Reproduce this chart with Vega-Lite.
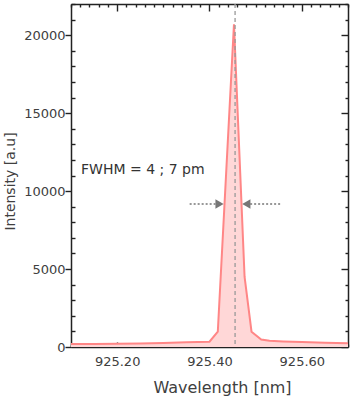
{
  "$schema": "https://vega.github.io/schema/vega-lite/v6.json",
  "width": 277,
  "height": 343,
  "autosize": "none",
  "padding": {"left": 71, "top": 4, "right": 4, "bottom": 55},
  "background": "white",
  "view": {"stroke": null},
  "config": {
    "axis": {
      "labelFont": "DejaVu Sans",
      "labelFontSize": 13,
      "labelColor": "#404040",
      "titleFont": "DejaVu Sans",
      "titleFontWeight": "normal",
      "titleColor": "#404040",
      "domainColor": "#222222",
      "domainWidth": 1.5,
      "tickColor": "#222222",
      "tickWidth": 1.4,
      "grid": false,
      "labelOverlap": false,
      "labelFlush": false,
      "labelBound": false
    }
  },
  "datasets": {
    "spectrum": [
      {"wl": 925.10, "intensity": 190},
      {"wl": 925.15, "intensity": 200},
      {"wl": 925.20, "intensity": 210},
      {"wl": 925.25, "intensity": 230},
      {"wl": 925.30, "intensity": 260},
      {"wl": 925.35, "intensity": 300},
      {"wl": 925.40, "intensity": 340},
      {"wl": 925.418, "intensity": 980},
      {"wl": 925.453, "intensity": 20700},
      {"wl": 925.476, "intensity": 4490},
      {"wl": 925.491, "intensity": 980},
      {"wl": 925.512, "intensity": 480},
      {"wl": 925.53, "intensity": 400},
      {"wl": 925.56, "intensity": 360},
      {"wl": 925.60, "intensity": 320},
      {"wl": 925.65, "intensity": 280},
      {"wl": 925.70, "intensity": 240}
    ],
    "arrows": [
      {"x1": 925.357, "x2": 925.413, "y": 9172},
      {"x1": 925.488, "x2": 925.557, "y": 9172}
    ],
    "heads": [
      {"x": 925.4217, "y": 9172, "dir": "triangle-right"},
      {"x": 925.4798, "y": 9172, "dir": "triangle-left"}
    ],
    "label": [
      {"x": 925.1217, "y": 11353, "text": "FWHM = 4 ; 7 pm"}
    ],
    "peak": [
      {"x": 925.4554}
    ]
  },
  "layer": [
    {
      "data": {"name": "spectrum"},
      "mark": {"type": "area", "color": "#ffd7d7", "opacity": 1},
      "encoding": {
        "x": {
          "field": "wl", "type": "quantitative",
          "scale": {"domain": [925.10, 925.70], "nice": false, "zero": false},
          "axis": {
            "orient": "bottom",
            "title": "Wavelength [nm]",
            "titleFontSize": 16,
            "titleX": 151,
            "titleY": 40,
            "titleBaseline": "middle",
            "values": [925.10,925.12,925.14,925.16,925.18,925.20,925.22,925.24,925.26,925.28,925.30,925.32,925.34,925.36,925.38,925.40,925.42,925.44,925.46,925.48,925.50,925.52,925.54,925.56,925.58,925.60,925.62,925.64,925.66,925.68,925.70],
            "tickSize": {"condition": {"test": "abs(datum.value - 925.2) < 0.001 || abs(datum.value - 925.4) < 0.001 || abs(datum.value - 925.6) < 0.001", "value": -5}, "value": -3},
            "labelPadding": 13,
            "labelExpr": "(abs(datum.value - 925.2) < 0.001 || abs(datum.value - 925.4) < 0.001 || abs(datum.value - 925.6) < 0.001) ? format(datum.value, '.2f') : ''"
          }
        },
        "y": {
          "field": "intensity", "type": "quantitative",
          "scale": {"domain": [0, 22000], "nice": false},
          "axis": {
            "orient": "left",
            "title": "Intensity [a.u]",
            "titleFontSize": 14,
            "titleAngle": -90,
            "titleX": -61,
            "titleY": 177,
            "titleAlign": "center",
            "titleBaseline": "middle",
            "values": [0,1000,2000,3000,4000,5000,6000,7000,8000,9000,10000,11000,12000,13000,14000,15000,16000,17000,18000,19000,20000,21000,22000],
            "tickSize": {"condition": {"test": "datum.value % 5000 == 0", "value": 6}, "value": -4},
            "labelPadding": 0,
            "labelExpr": "datum.value % 5000 == 0 ? format(datum.value, 'd') : ''"
          }
        }
      }
    },
    {
      "data": {"name": "spectrum"},
      "mark": {"type": "line", "color": "#ff8686", "strokeWidth": 2},
      "encoding": {
        "x": {
          "field": "wl", "type": "quantitative",
          "scale": {"domain": [925.10, 925.70], "nice": false, "zero": false},
          "axis": {
            "orient": "top",
            "title": null,
            "labels": false,
            "values": [925.10,925.12,925.14,925.16,925.18,925.20,925.22,925.24,925.26,925.28,925.30,925.32,925.34,925.36,925.38,925.40,925.42,925.44,925.46,925.48,925.50,925.52,925.54,925.56,925.58,925.60,925.62,925.64,925.66,925.68,925.70],
            "tickSize": {"condition": {"test": "abs(datum.value - 925.2) < 0.001 || abs(datum.value - 925.4) < 0.001 || abs(datum.value - 925.6) < 0.001", "value": -7}, "value": -3}
          }
        },
        "y": {
          "field": "intensity", "type": "quantitative",
          "scale": {"domain": [0, 22000], "nice": false},
          "axis": {
            "orient": "right",
            "title": null,
            "labels": false,
            "values": [0,1000,2000,3000,4000,5000,6000,7000,8000,9000,10000,11000,12000,13000,14000,15000,16000,17000,18000,19000,20000,21000,22000],
            "tickSize": {"condition": {"test": "datum.value % 5000 == 0", "value": -7}, "value": -3}
          }
        }
      }
    },
    {
      "data": {"name": "peak"},
      "mark": {"type": "rule", "color": "#999999", "strokeWidth": 1.3, "strokeDash": [4, 3]},
      "encoding": {
        "x": {"field": "x", "type": "quantitative", "scale": {"domain": [925.10, 925.70], "nice": false, "zero": false}, "axis": null}
      }
    },
    {
      "data": {"name": "arrows"},
      "mark": {"type": "rule", "color": "#777777", "strokeWidth": 1.5, "strokeDash": [2, 2]},
      "encoding": {
        "x": {"field": "x1", "type": "quantitative", "scale": {"domain": [925.10, 925.70], "nice": false, "zero": false}, "axis": null},
        "x2": {"field": "x2"},
        "y": {"field": "y", "type": "quantitative", "scale": {"domain": [0, 22000], "nice": false}, "axis": null}
      }
    },
    {
      "data": {"name": "heads"},
      "mark": {"type": "point", "filled": true, "color": "#777777", "opacity": 1, "size": 90},
      "encoding": {
        "x": {"field": "x", "type": "quantitative", "scale": {"domain": [925.10, 925.70], "nice": false, "zero": false}, "axis": null},
        "y": {"field": "y", "type": "quantitative", "scale": {"domain": [0, 22000], "nice": false}, "axis": null},
        "shape": {"field": "dir", "type": "nominal", "scale": null, "legend": null}
      }
    },
    {
      "data": {"name": "label"},
      "mark": {"type": "text", "align": "left", "baseline": "middle", "font": "DejaVu Sans", "fontSize": 14, "color": "#333333"},
      "encoding": {
        "x": {"field": "x", "type": "quantitative", "scale": {"domain": [925.10, 925.70], "nice": false, "zero": false}, "axis": null},
        "y": {"field": "y", "type": "quantitative", "scale": {"domain": [0, 22000], "nice": false}, "axis": null},
        "text": {"field": "text"}
      }
    }
  ],
  "resolve": {"axis": {"x": "independent", "y": "independent"}}
}
